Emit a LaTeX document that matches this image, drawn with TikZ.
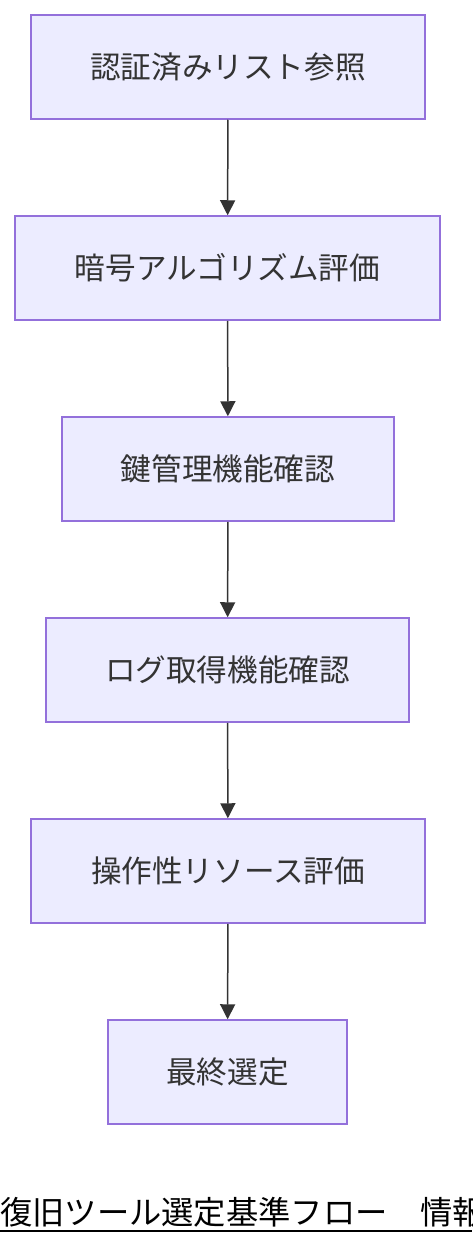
\documentclass[tikz,border=0pt]{standalone}
\usepackage{fontspec}
\setmainfont{Noto Sans CJK JP}
\usetikzlibrary{arrows.meta}
\definecolor{nodefill}{HTML}{ECECFF}
\definecolor{nodeline}{HTML}{9370DB}
\definecolor{txt}{HTML}{333333}
\tikzset{
  stepbox/.style={draw=nodeline, fill=nodefill, line width=1.5pt, minimum height=104pt, inner sep=0pt, text=txt, font=\fontsize{30.6}{36}\selectfont},
  flow/.style={draw=txt, line width=1.5pt, -{Triangle[length=15pt,width=15pt]}}
}
\begin{document}
\begin{tikzpicture}[x=1pt,y=-1pt]
\useasboundingbox (0,0) rectangle (472,1244);
\clip (0,0) rectangle (472,1244);
\node[stepbox, minimum width=394pt] (n1) at (228,67) {認証済みリスト参照};
\node[stepbox, minimum width=425pt] (n2) at (227.5,268) {暗号アルゴリズム評価};
\node[stepbox, minimum width=332pt] (n3) at (228,469) {鍵管理機能確認};
\node[stepbox, minimum width=363pt] (n4) at (227.5,670) {ログ取得機能確認};
\node[stepbox, minimum width=394pt] (n5) at (228,871) {操作性リソース評価};
\node[stepbox, minimum width=239pt] (n6) at (227.5,1072) {最終選定};
\draw[flow] (n1) -- (n2);
\draw[flow] (n2) -- (n3);
\draw[flow] (n3) -- (n4);
\draw[flow] (n4) -- (n5);
\draw[flow] (n5) -- (n6);
\node[anchor=base west, inner sep=0pt, font=\fontsize{32.3}{36}\selectfont, text=black] (title) at (0,1224) {復旧ツール選定基準フロー　情報};
\draw[black, line width=2pt] (0,1231) -- (472,1231);
\end{tikzpicture}
\end{document}
